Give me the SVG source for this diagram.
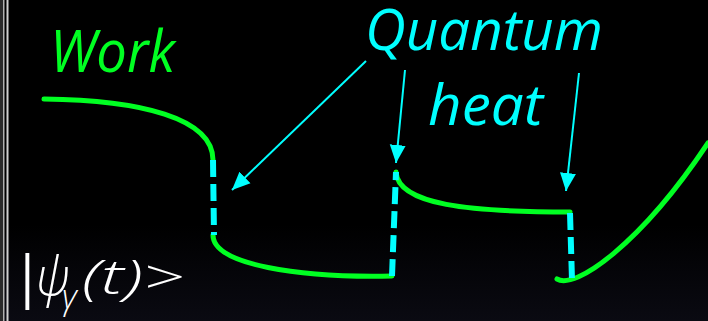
<svg xmlns="http://www.w3.org/2000/svg" width="708" height="321" viewBox="0 0 708 321">
<defs>
<linearGradient id="bg" x1="0" y1="0" x2="0" y2="1">
<stop offset="0" stop-color="#000000"/>
<stop offset="0.7" stop-color="#000000"/>
<stop offset="1" stop-color="#0a0a12"/>
</linearGradient>
<marker id="ah" markerUnits="userSpaceOnUse" markerWidth="20" markerHeight="20" viewBox="0 0 20 20" refX="18" refY="10" orient="auto">
<polygon points="0,2 18,10 0,18" fill="#00ffff"/>
</marker>
<style>
.g{fill:none;stroke:#00ff22;stroke-width:5;stroke-linecap:round}
.d{fill:none;stroke:#00ffff;stroke-width:6;stroke-dasharray:17 7}
.a{fill:none;stroke:#00ffff;stroke-width:2}
.t{font-family:"Open Sans","Noto Sans",sans-serif;font-style:italic}
</style>
</defs>
<rect width="708" height="321" fill="url(#bg)"/>
<rect x="0" y="0" width="3" height="321" fill="#2a2a2a"/>
<rect x="3" y="0" width="1.5" height="321" fill="#b0b0b0"/>
<rect x="6.5" y="0" width="2" height="321" fill="#d0d0d0"/>
<g id="curves">
<path class="g" d="M44,99 C140,100 213,118 213,160"/>
<path class="g" d="M213,235 C213,265 300,278 392,276"/>
<path class="g" d="M396,172 C398,205 470,212 570,212"/>
<path class="g" d="M557,279 C575,290 640,245 708,143"/>
</g>
<g id="connectors">
<path class="d" d="M213,160 L214,235"/>
<path class="d" d="M392,276 L396,172"/>
<path class="d" d="M570,213 L572,280"/>
<line class="a" x1="366" y1="61" x2="232" y2="190" marker-end="url(#ah)"/>
<line class="a" x1="405" y1="70" x2="396" y2="163" marker-end="url(#ah)"/>
<line class="a" x1="579" y1="73" x2="566" y2="191" marker-end="url(#ah)"/>
</g>
<g id="work"><text class="t" x="50" y="72" font-size="58" fill="#00ff22" textLength="125" lengthAdjust="spacingAndGlyphs">Work</text></g>
<g id="qheat">
<text class="t" x="365" y="50" font-size="56" fill="#00ffff" textLength="238" lengthAdjust="spacingAndGlyphs">Quantum</text>
<text class="t" x="428" y="125" font-size="56" fill="#00ffff" textLength="115" lengthAdjust="spacingAndGlyphs">heat</text>
</g>
<g id="psi" fill="#ffffff">
<text x="12" y="296" font-size="56" style="font-family:'Open Sans','Noto Sans',sans-serif">|</text>
<text class="t" x="36" y="295" font-size="54" font-weight="300" textLength="34" lengthAdjust="spacingAndGlyphs">ψ</text>
<text class="t" x="62" y="309" font-size="34" font-weight="300">γ</text>
<text class="t" x="82" y="294" font-size="48" font-weight="300" textLength="102" lengthAdjust="spacingAndGlyphs">(t)&gt;</text>
</g>
</svg>
